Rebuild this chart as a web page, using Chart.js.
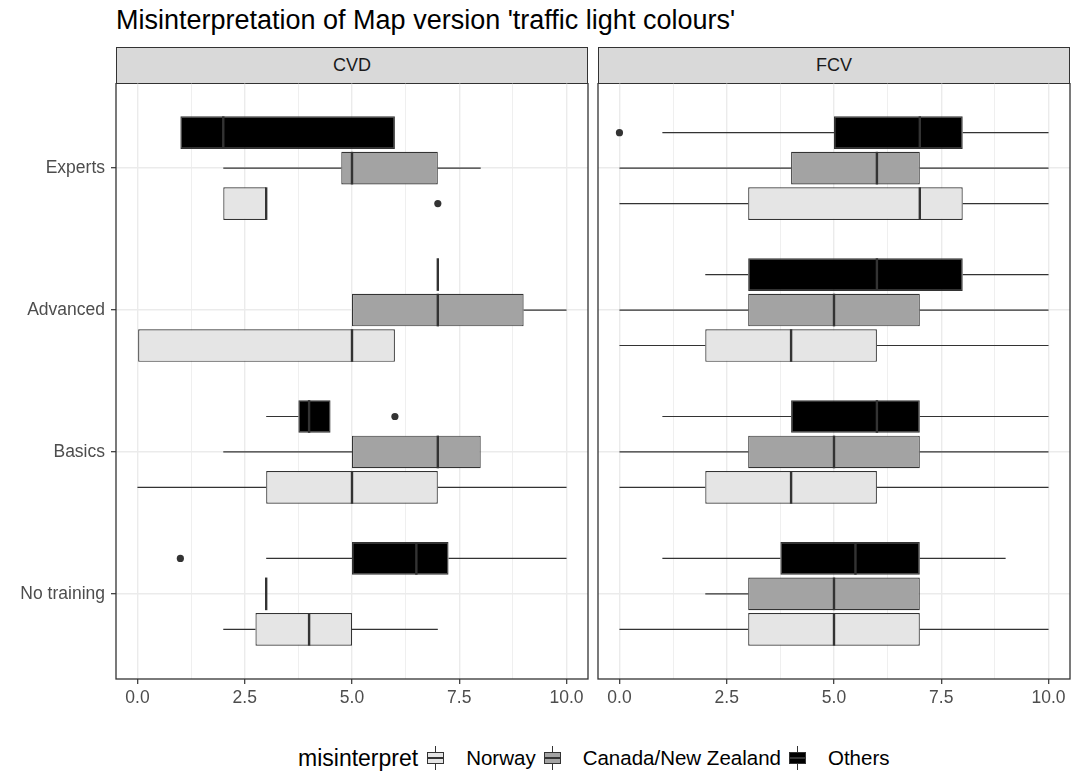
<!DOCTYPE html>
<html>
<head>
<meta charset="utf-8">
<script src="https://cdn.jsdelivr.net/npm/chart.js@4.4.1/dist/chart.umd.min.js"></script>
<style>
  body { margin: 0; background: #fff; font-family: 'Liberation Sans', Arial, sans-serif; }
  #page { position: relative; width: 1072px; height: 773px; overflow: hidden; }
  .title { position: absolute; left: 116px; top: 5px; font-size: 27px; color: #000; white-space: nowrap; }
  .strip { position: absolute; top: 47px; width: 472px; height: 37px; box-sizing: border-box;
           border: 1.3px solid #333; background: #d9d9d9; font-size: 18px; color: #1a1a1a;
           text-align: center; line-height: 34px; }
  canvas { position: absolute; top: 83px; }
  #legend { position: absolute; left: 298px; top: 746px; height: 24px; display: flex; align-items: center; white-space: nowrap; }
  #legend .ltitle { font-size: 23px; color: #000; margin-right: 9px; flex: none; }
  #legend .key { display: block; position: relative; flex: none; width: 17px; height: 24px; margin-right: 22px; }
  #legend .key i { display: block; position: absolute; }
  #legend .key .wh { left: 7.9px; top: 0; width: 1.2px; height: 24px; background: #333; }
  #legend .key .bx { left: 0; top: 6px; width: 17px; height: 12px; box-sizing: border-box; border: 1.2px solid #333; }
  #legend .key .md { left: 0; top: 11.4px; width: 17px; height: 1.2px; background: #333; }
  #legend .lab { font-size: 20.5px; color: #000; margin-right: 8px; flex: none; }
</style>
</head>
<body>
<div id="page">
  <div class="title">Misinterpretation of Map version 'traffic light colours'</div>
  <div class="strip" style="left:116px">CVD</div>
  <div class="strip" style="left:598px">FCV</div>
  <canvas id="cvdChart" width="592" height="636" style="left:0"></canvas>
  <canvas id="fcvChart" width="480" height="636" style="left:592px"></canvas>
  <div id="legend"></div>
</div>
<script>
// y categories, top to bottom
const categories = ['Experts', 'Advanced', 'Basics', 'No training'];
const groups = ['Norway', 'Canada/New Zealand', 'Others'];
const fills = ['#e5e5e5', '#a3a3a3', '#000000'];

// x ticks
const xBreaks = [0, 2.5, 5, 7.5, 10];
const xMinor = [1.25, 3.75, 6.25, 8.75];

// per category: [lower whisker, q1, median, q3, upper whisker]
const cvdNorway = [[2, 2, 3, 3, 3], [0, 0, 5, 6, 6], [0, 3, 5, 7, 10], [2, 2.75, 4, 5, 7]];
const cvdCanada = [[2, 4.75, 5, 7, 8], [5, 5, 7, 9, 10], [2, 5, 7, 8, 8], [3, 3, 3, 3, 3]];
const cvdOthers = [[1, 1, 2, 6, 6], [7, 7, 7, 7, 7], [3, 3.75, 4, 4.5, 4.5], [3, 5, 6.5, 7.25, 10]];
const fcvNorway = [[0, 3, 7, 8, 10], [0, 2, 4, 6, 10], [0, 2, 4, 6, 10], [0, 3, 5, 7, 10]];
const fcvCanada = [[0, 4, 6, 7, 10], [0, 3, 5, 7, 10], [0, 3, 5, 7, 10], [2, 3, 5, 7, 7]];
const fcvOthers = [[1, 5, 7, 8, 10], [2, 3, 6, 8, 10], [1, 4, 6, 7, 10], [1, 3.75, 5.5, 7, 9]];

// outlying points per category
const cvdNorwayOut = [[7], [], [], []];
const cvdCanadaOut = [[], [], [], []];
const cvdOthersOut = [[], [], [6], [1]];
const fcvNorwayOut = [[], [], [], []];
const fcvCanadaOut = [[], [], [], []];
const fcvOthersOut = [[0], [], [], []];

Chart.defaults.font.family = "'Liberation Sans', Arial, sans-serif";

// whiskers, medians, outliers and panel frame
const boxParts = {
    id: 'boxParts',
    afterDatasetsDraw(chart) {
        const ctx = chart.ctx;
        const xs = chart.scales.x;
        ctx.save();
        chart.data.datasets.forEach((ds, di) => {
            const meta = chart.getDatasetMeta(di);
            meta.data.forEach((bar, i) => {
                const [lo, q1, med, q3, hi] = ds.stats[i];
                const { y, height } = bar.getProps(['y', 'height'], true);
                ctx.strokeStyle = '#333333';
                ctx.lineWidth = 1.2;
                ctx.beginPath();
                if (lo < q1) {
                    ctx.moveTo(xs.getPixelForValue(lo), y);
                    ctx.lineTo(xs.getPixelForValue(q1), y);
                }
                if (hi > q3) {
                    ctx.moveTo(xs.getPixelForValue(q3), y);
                    ctx.lineTo(xs.getPixelForValue(hi), y);
                }
                ctx.stroke();
                const mx = xs.getPixelForValue(med);
                ctx.lineWidth = 2.4;
                ctx.beginPath();
                ctx.moveTo(mx, y - height / 2);
                ctx.lineTo(mx, y + height / 2);
                ctx.stroke();
                ctx.fillStyle = '#333333';
                ds.outliers[i].forEach(v => {
                    ctx.beginPath();
                    ctx.arc(xs.getPixelForValue(v), y, 3.6, 0, Math.PI * 2);
                    ctx.fill();
                });
            });
        });
        const a = chart.chartArea;
        ctx.strokeStyle = '#333333';
        ctx.lineWidth = 1.3;
        ctx.strokeRect(a.left, a.top, a.right - a.left, a.bottom - a.top);
        ctx.restore();
    }
};

function makePanel(canvasId, series, outliers, showY, padRight) {
    // draw order Others, Canada, Norway so Others sits on top
    const datasets = [2, 1, 0].map(g => ({
        label: groups[g],
        data: series[g].map((s, i) => ({ x: [s[1], s[3]], y: i })),
        stats: series[g],
        outliers: outliers[g],
        backgroundColor: fills[g],
        borderColor: '#333333',
        borderWidth: 1.2,
        borderSkipped: false,
        inflateAmount: 0,
        categoryPercentage: 0.75,
        barPercentage: 0.92
    }));

    return new Chart(document.getElementById(canvasId), {
        type: 'bar',
        data: { datasets },
        options: {
            indexAxis: 'y',
            responsive: false,
            animation: false,
            layout: { padding: { left: 0, right: padRight, top: 0, bottom: 0 } },
            scales: {
                x: {
                    type: 'linear',
                    min: -0.5,
                    max: 10.5,
                    afterBuildTicks: s => { s.ticks = xBreaks.concat(xMinor).sort((a, b) => a - b).map(v => ({ value: v })); },
                    afterFit: s => { s.height = 40; },
                    border: { display: false },
                    grid: {
                        color: '#ebebeb',
                        lineWidth: c => xBreaks.includes(c.tick && c.tick.value) ? 1.4 : 0.8,
                        tickLength: 5,
                        tickWidth: 1.2,
                        tickColor: c => xBreaks.includes(c.tick && c.tick.value) ? '#333333' : 'rgba(0,0,0,0)'
                    },
                    ticks: {
                        autoSkip: false,
                        maxRotation: 0,
                        padding: 4,
                        color: '#4d4d4d',
                        font: { size: 17.5 },
                        callback: v => xBreaks.includes(v) ? v.toFixed(1) : ''
                    }
                },
                y: {
                    type: 'linear',
                    min: -0.6,
                    max: 3.6,
                    reverse: true,
                    offset: false,
                    afterBuildTicks: s => { s.ticks = categories.map((c, i) => ({ value: i })); },
                    afterFit: s => {
                        s.width = showY ? 116 : 6;
                        s.paddingTop = 0;
                        s.paddingBottom = 0;
                    },
                    border: { display: false },
                    grid: {
                        offset: false,
                        color: '#ebebeb',
                        lineWidth: 1.4,
                        drawTicks: showY,
                        tickLength: 5,
                        tickWidth: 1.2,
                        tickColor: '#333333'
                    },
                    ticks: {
                        display: showY,
                        padding: 6,
                        color: '#4d4d4d',
                        font: { size: 17.5 },
                        callback: v => categories[v]
                    }
                }
            },
            plugins: {
                legend: { display: false },
                tooltip: { enabled: false }
            }
        },
        plugins: [boxParts]
    });
}

makePanel('cvdChart', [cvdNorway, cvdCanada, cvdOthers], [cvdNorwayOut, cvdCanadaOut, cvdOthersOut], true, 4);
makePanel('fcvChart', [fcvNorway, fcvCanada, fcvOthers], [fcvNorwayOut, fcvCanadaOut, fcvOthersOut], false, 2);

// legend
const legend = document.getElementById('legend');
let html = '<span class="ltitle">misinterpret</span>';
groups.forEach((g, i) => {
    html += '<span class="key"><i class="wh"></i><i class="bx" style="background:' + fills[i] + '"></i><i class="md"></i></span>' +
        '<span class="lab">' + g + '</span>';
});
legend.innerHTML = html;
</script>
</body>
</html>
